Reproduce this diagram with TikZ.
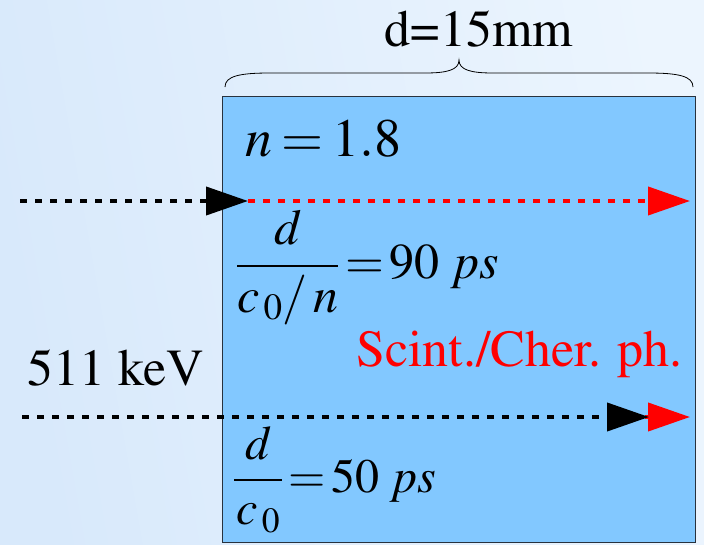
\documentclass[tikz,border=0pt]{standalone}
\usepackage[T1]{fontenc}
\usepackage{amsmath}
\usepackage{mathptmx}
\usetikzlibrary{arrows.meta,positioning}
\definecolor{bgleft}{RGB}{216,233,251}
\definecolor{bgright}{RGB}{236,245,254}
\definecolor{crystalfill}{RGB}{130,200,255}
\definecolor{crystaledge}{RGB}{40,50,62}
\tikzset{
  crystal/.style={draw=crystaledge,fill=crystalfill,line width=1pt,
    minimum width=473pt,minimum height=446pt,inner sep=0pt},
  lbl/.style={inner sep=0pt,font=\fontsize{52}{60}\selectfont},
  eqn/.style={inner sep=0pt,font=\fontsize{50}{58}\selectfont},
  photon/.style={line width=4pt,dash pattern=on 7pt off 8pt,
    -{Triangle[length=42pt,width=28pt]}},
}

\begin{document}
\begin{tikzpicture}[x=1pt,y=-1pt]
% background
\shade[left color=bgleft,right color=bgright,shading angle=100] (0,0) rectangle (704,544);
\useasboundingbox (0,0) rectangle (704,544);
% crystal and its thickness
\node[crystal,anchor=north west] (box) at (222,96) {};
\node[lbl,anchor=base] (thick) at (479,46) {d=15mm};
\draw[line width=0.8pt] (225,87) .. controls (225,76) and (240,73) .. (270,73) -- (425,73)
  .. controls (447,73) and (459,70) .. (459,60)
  .. controls (459,70) and (471,73) .. (493,73) -- (648,73)
  .. controls (678,73) and (693,76) .. (693,87);
% labels
\node[eqn,anchor=base west,font=\fontsize{54}{60}\selectfont] (index) at (245,156) {$n\mkern-1mu=\mkern-1mu1.8$};
\node[eqn,anchor=base west] (tslow) at (236,278) {$\dfrac{\;d\;}{c_{\,0}/\,n}\!=\!90\,\,ps$};
\node[lbl,anchor=base east,text=red] (phot) at (683,366) {Scint./Cher. ph.};
\node[lbl,anchor=base west] (energy) at (27,385) {511 keV};
\node[eqn,anchor=base west,font=\fontsize{48}{54}\selectfont] (tfast) at (233,492) {$\dfrac{\;d\;}{c_{\,0}}\!=\!50\,\,ps$};
% gamma and photon paths
\coordinate (gin) at (20,201);
\coordinate (gent) at (248,201);
\coordinate (gout) at (690,201);
\coordinate (hin) at (22,417);
\coordinate (hmid) at (649,417);
\coordinate (hred) at (645,417);
\coordinate (hout) at (690,417);
\draw[photon] (gin) -- (gent);
\draw[photon,red] (gent) -- (gout);
\draw[photon,red] (hred) -- (hout);
\draw[photon] (hin) -- (hmid);
\end{tikzpicture}
\end{document}
